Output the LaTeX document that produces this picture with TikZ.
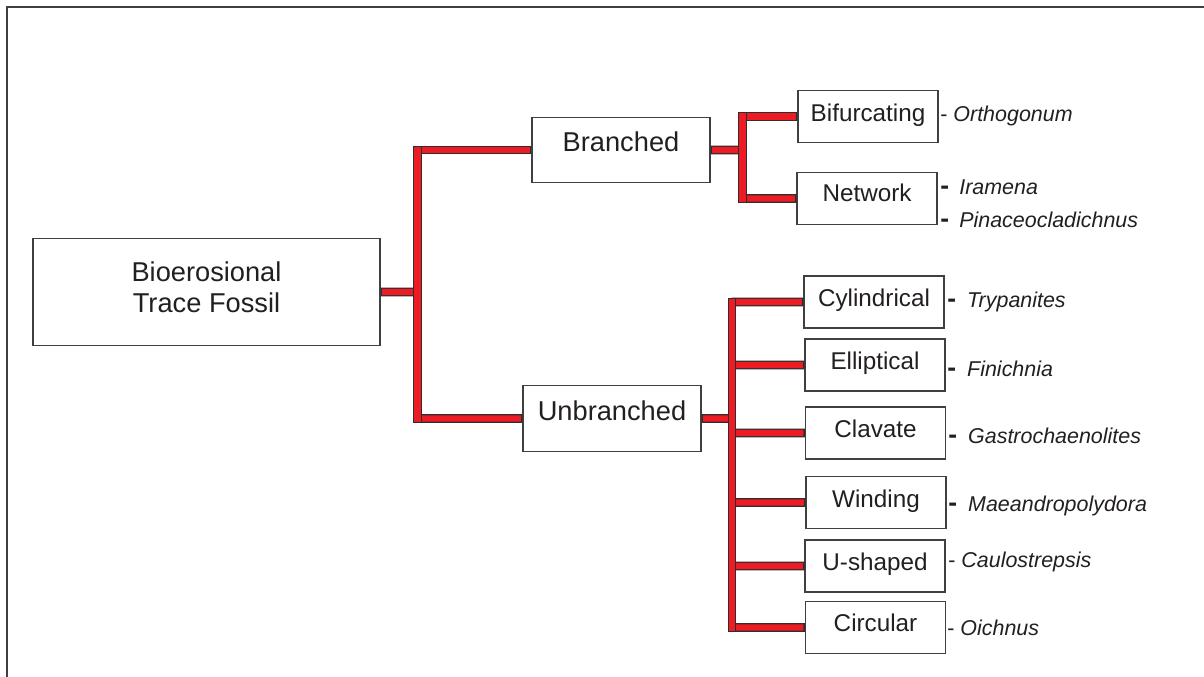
\documentclass[tikz,border=0pt]{standalone}
\usepackage{fontspec}
\setmainfont{Liberation Sans}
\usepackage{tikz}
\definecolor{barred}{HTML}{ED1C24}
\definecolor{barline}{HTML}{2E2E2E}
\definecolor{boxline}{HTML}{404040}
\definecolor{ink}{HTML}{231F20}
\newcommand{\bdash}{{\fontsize{15}{15}\selectfont\bfseries -}}

\begin{document}
\begin{tikzpicture}[scale=0.2]
	\tikzstyle{every node}+=[inner sep=0pt, text=ink]
	\tikzstyle{box}=[draw=boxline, line width=0.8pt, fill=white, minimum width=2.8cm, minimum height=1.04cm, font=\fontsize{13.8}{16}\selectfont, text depth=4.5pt]
	\tikzstyle{bigbox}=[box, minimum width=3.56cm, minimum height=1.31cm, font=\fontsize{15.5}{17.5}\selectfont, text depth=9pt]
	\tikzstyle{taxon}=[anchor=base west, font=\fontsize{12.2}{14}\selectfont]
	\tikzstyle{bar}=[draw=barline, line width=0.75pt, double=barred, double distance=3.6pt, line cap=rect]
	\tikzstyle{stub}=[bar, shorten <=2.55pt, shorten >=2.55pt]
	\useasboundingbox (0,0) rectangle (120.4,-67.7);
	\draw [boxline, line width=1.1pt] (122,-0.7) -- (0.7,-0.7) -- (0.7,-69);
	\draw (20.65,-29.2) node[bigbox, minimum width=6.94cm, minimum height=2.14cm, align=center, text depth=5.6pt] (root) {Bioerosional\\Trace Fossil};
	\draw (62.1,-15.0) node[bigbox] (branched) {Branched};
	\draw (61.2,-41.85) node[bigbox] (unbranched) {Unbranched};
	\draw (86.8,-11.65) node[box] (bifurcating) {Bifurcating};
	\draw (86.7,-19.85) node[box, text depth=6.2pt] (network) {Network};
	\draw (87.4,-30.2) node[box] (cylindrical) {Cylindrical};
	\draw (87.5,-36.5) node[box] (elliptical) {Elliptical};
	\draw (87.55,-43.3) node[box] (clavate) {Clavate};
	\draw (87.6,-50.25) node[box] (winding) {Winding};
	\draw (87.5,-56.6) node[box] (ushaped) {U-shaped};
	\draw (87.55,-62.75) node[box, text depth=5pt] (circular) {Circular};
	\draw (94.0,-12.2) node[taxon] (orthogonum) {-\ \textit{Orthogonum}};
	\draw (94.0,-19.5) node[taxon] (iramena) {\bdash\hspace{5.8pt}\textit{Iramena}};
	\draw (94.0,-22.8) node[taxon] (pinaceocladichnus) {\bdash\hspace{5.8pt}\textit{Pinaceocladichnus}};
	\draw (94.7,-30.8) node[taxon] (trypanites) {\bdash\hspace{6.3pt}\textit{Trypanites}};
	\draw (94.7,-37.7) node[taxon] (finichnia) {\bdash\hspace{6.3pt}\textit{Finichnia}};
	\draw (94.8,-44.4) node[taxon] (gastrochaenolites) {\bdash\hspace{6.3pt}\textit{Gastrochaenolites}};
	\draw (94.8,-51.2) node[taxon] (maeandropolydora) {\bdash\hspace{6.3pt}\textit{Maeandropolydora}};
	\draw (94.8,-56.7) node[taxon] (caulostrepsis) {-\ \textit{Caulostrepsis}};
	\draw (94.7,-63.5) node[taxon] (oichnus) {-\ \textit{Oichnus}};
	\coordinate (t1) at (41.75,0);
	\coordinate (t2) at (74.25,0);
	\coordinate (t3) at (73.2,0);
	\draw [stub] (root) -- (t1 |- root);
	\draw [stub] (t1 |- branched) -- (branched);
	\draw [stub] (t1 |- unbranched) -- (unbranched);
	\draw [bar] (t1 |- branched) -- (t1 |- unbranched);
	\draw [stub] (branched) -- (t2 |- branched);
	\draw [stub] (t2 |- bifurcating) -- (bifurcating);
	\draw [stub] (t2 |- network) -- (network);
	\draw [bar] (t2 |- bifurcating) -- (t2 |- network);
	\draw [stub] (unbranched) -- (t3 |- unbranched);
	\draw [stub] (t3 |- cylindrical) -- (cylindrical);
	\draw [stub] (t3 |- elliptical) -- (elliptical);
	\draw [stub] (t3 |- clavate) -- (clavate);
	\draw [stub] (t3 |- winding) -- (winding);
	\draw [stub] (t3 |- ushaped) -- (ushaped);
	\draw [stub] (t3 |- circular) -- (circular);
	\draw [bar] (t3 |- cylindrical) -- (t3 |- circular);
\end{tikzpicture}
\end{document}
